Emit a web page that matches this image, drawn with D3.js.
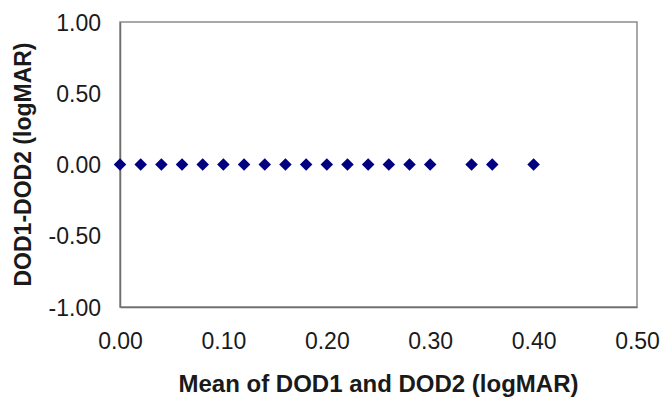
<!DOCTYPE html>
<html>
<head>
<meta charset="utf-8">
<script src="https://cdn.jsdelivr.net/npm/d3@7"></script>
<style>
  body { margin: 0; background: #fff; }
  svg text { font-family: "Liberation Sans", Arial, sans-serif; fill: #1a1a1a; }
</style>
</head>
<body>
<div id="chart"></div>
<script>
// data: DOD1 - DOD2 difference vs mean
const meanValues = [0.00, 0.02, 0.04, 0.06, 0.08, 0.10, 0.12, 0.14, 0.16, 0.18,
                    0.20, 0.22, 0.24, 0.26, 0.28, 0.30, 0.34, 0.36, 0.40];
const diffValues = [0, 0, 0, 0, 0, 0, 0, 0, 0, 0,
                    0, 0, 0, 0, 0, 0, 0, 0, 0];
const xTicks = [0, 0.1, 0.2, 0.3, 0.4, 0.5];
const yTicks = [-1, -0.5, 0, 0.5, 1];

const width = 665, height = 398;
const margin = { top: 22, right: 28, bottom: 91, left: 120 };

const svg = d3.select('#chart').append('svg')
    .attr('width', width)
    .attr('height', height);

const x = d3.scaleLinear().domain([0, 0.5]).range([margin.left, width - margin.right]);
const y = d3.scaleLinear().domain([-1, 1]).range([height - margin.bottom, margin.top]);

// plot area frame
svg.append('rect')
    .attr('x', x(0)).attr('y', y(1))
    .attr('width', x(0.5) - x(0)).attr('height', y(-1) - y(1))
    .attr('fill', 'none').attr('stroke', '#8c8c8c').attr('stroke-width', 1.5);

// y axis
const yAxis = svg.append('g')
    .attr('transform', `translate(${x(0)},0)`)
    .call(d3.axisLeft(y).tickValues(yTicks).tickFormat(d3.format('.2f')).tickSize(0).tickPadding(19));
yAxis.select('.domain').attr('stroke', '#6e6e6e').attr('stroke-width', 1.5);
yAxis.selectAll('text').attr('font-size', 23).attr('dy', '0.35em')
    .text(d => d3.format('.2f')(d).replace('−', '-'));

// x axis
const xAxis = svg.append('g')
    .attr('transform', `translate(0,${y(-1)})`)
    .call(d3.axisBottom(x).tickValues(xTicks).tickFormat(d3.format('.2f')).tickSize(0).tickPadding(26));
xAxis.select('.domain').attr('stroke', '#6e6e6e').attr('stroke-width', 1.5);
xAxis.selectAll('text').attr('font-size', 23).attr('dy', '0.71em');

// points
svg.append('g').selectAll('path')
    .data(meanValues.map((m, i) => ({ m: m, d: diffValues[i] })))
    .join('path')
    .attr('transform', d => `translate(${x(d.m)},${y(d.d)})`)
    .attr('d', d3.symbol().type(d3.symbolDiamond2).size(100))
    .attr('fill', '#000080');

// axis titles
svg.append('text')
    .attr('x', (x(0) + x(0.5)) / 2)
    .attr('y', 392)
    .attr('text-anchor', 'middle')
    .attr('font-size', 24)
    .attr('font-weight', 'bold')
    .text('Mean of DOD1 and DOD2 (logMAR)');

svg.append('text')
    .attr('transform', `translate(31,${(y(1) + y(-1)) / 2}) rotate(-90)`)
    .attr('text-anchor', 'middle')
    .attr('font-size', 23)
    .attr('font-weight', 'bold')
    .text('DOD1-DOD2 (logMAR)');
</script>
</body>
</html>
